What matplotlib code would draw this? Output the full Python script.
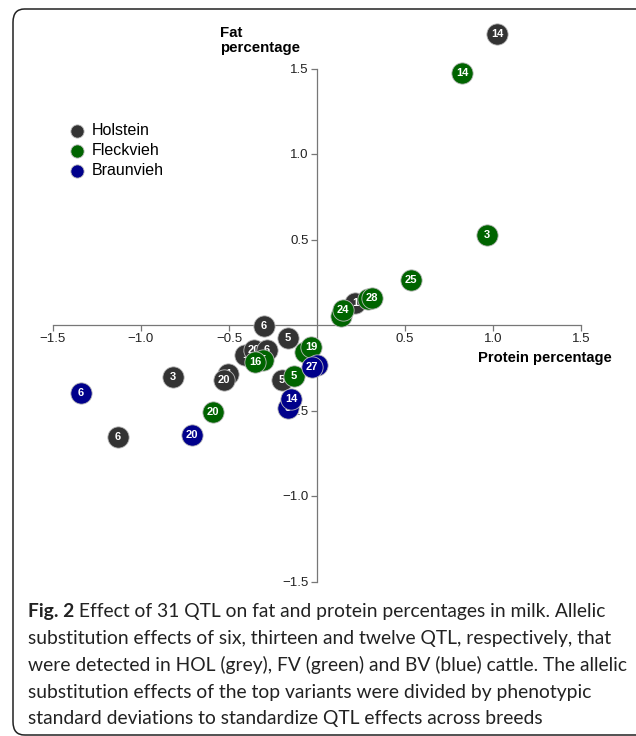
import matplotlib
matplotlib.use("Agg")
import matplotlib.pyplot as plt
from matplotlib.patches import FancyBboxPatch

# breeds: Holstein (grey), Fleckvieh (green), Braunvieh (blue)
# x = protein percentage effect, y = fat percentage effect, label = chromosome
hol_x = [-0.506, -0.528, -1.131, -0.818, -0.301, -0.165, -0.409, -0.358, -0.284, -0.199, 0.216, 1.023]
hol_y = [-0.287, -0.322, -0.655, -0.304, -0.005, -0.076, -0.175, -0.146, -0.146, -0.322, 0.129, 1.702]
hol_lab = ["1", "20", "6", "3", "6", "5", "1", "20", "6", "5", "1", "14"]

fv_x = [0.290, 0.313, 0.136, 0.148, -0.068, -0.034, -0.307, -0.352, -0.131, -0.591, 0.534, 0.966, 0.824]
fv_y = [0.152, 0.158, 0.053, 0.088, -0.158, -0.129, -0.205, -0.216, -0.298, -0.509, 0.263, 0.526, 1.474]
fv_lab = ["1", "28", "5", "24", "1", "19", "5", "16", "5", "20", "25", "3", "14"]

bv_x = [0.0, -0.028, -0.165, -0.148, -1.341, -0.710]
bv_y = [-0.234, -0.246, -0.485, -0.433, -0.398, -0.643]
bv_lab = ["1", "27", "5", "14", "6", "20"]

breeds = ["Holstein", "Fleckvieh", "Braunvieh"]
colors = ["#333333", "#006400", "#00008b"]
ticks = [-1.5, -1.0, -0.5, 0.5, 1.0, 1.5]
tick_labels = ["\u22121.5", "\u22121.0", "\u22120.5", "0.5", "1.0", "1.5"]

plt.rcParams["font.family"] = ["Liberation Sans", "DejaVu Sans"]

W, H = 636, 736
fig = plt.figure(figsize=(W / 100, H / 100), dpi=100)

# axes placed so that data 0 sits at pixel (317, 325)
xl, xr = -1.6, 1.7
yb, yt = -1.6, 1.8
px = lambda v: 317 + 176 * v
py = lambda v: 325 - 171 * v
ax = fig.add_axes([px(xl) / W, 1 - py(yb) / H, (px(xr) - px(xl)) / W, (py(yb) - py(yt)) / H])
ax.set_xlim(xl, xr)
ax.set_ylim(yb, yt)
ax.patch.set_visible(False)

for s in ["top", "right"]:
    ax.spines[s].set_visible(False)
for s in ["left", "bottom"]:
    ax.spines[s].set_position(("data", 0))
    ax.spines[s].set_color("#777777")
    ax.spines[s].set_linewidth(0.9)
    ax.spines[s].set_bounds(-1.5, 1.5)

ax.set_xticks(ticks)
ax.set_xticklabels(tick_labels)
ax.set_yticks(ticks)
ax.set_yticklabels(tick_labels)
ax.tick_params(colors="#777777", labelcolor="#222222", labelsize=9.5, length=4, width=0.9, pad=2)

z = 3
for name, c, xs, ys, labs in zip(breeds, colors, [hol_x, fv_x, bv_x], [hol_y, fv_y, bv_y],
                                 [hol_lab, fv_lab, bv_lab]):
    for i, (x, y, lab) in enumerate(zip(xs, ys, labs)):
        ax.scatter(x, y, s=235, color=c, edgecolors="#bbbbbb", linewidths=0.6, zorder=z,
                   label=name if i == 0 else None)
        ax.text(x, y, lab, ha="center", va="center", color="white", fontsize=8,
                fontweight="bold", zorder=z + 0.5)
        z += 1

ax.legend(loc="upper left", bbox_to_anchor=(69 / W, 1 - 123 / H), bbox_transform=fig.transFigure,
          frameon=False, fontsize=11.5, markerscale=0.62, handlelength=0.95, handletextpad=0.45,
          labelspacing=0.32, borderpad=0, borderaxespad=0, scatterpoints=1)

fig.text(220 / W, 1 - 26 / H, "Fat\npercentage", ha="left", va="top", fontsize=10.8,
         fontweight="bold", linespacing=1.1)
fig.text(478 / W, 1 - 358 / H, "Protein percentage", ha="left", va="center", fontsize=10.6,
         fontweight="bold")

# caption
cap = [
    "Effect of 31 QTL on fat and protein percentages in milk. Allelic",
    "substitution effects of six, thirteen and twelve QTL, respectively, that",
    "were detected in HOL (grey), FV (green) and BV (blue) cattle. The allelic",
    "substitution effects of the top variants were divided by phenotypic",
    "standard deviations to standardize QTL effects across breeds",
]
cap_font = ["Lato", "DejaVu Sans"]
fs = 13.9
t0 = fig.text(28 / W, 1 - 617 / H, "Fig. 2", ha="left", va="baseline", fontsize=fs,
              fontweight="bold", family=cap_font, color="#222222")
plt.annotate(" " + cap[0], xy=(1, 0), xycoords=t0, ha="left", va="bottom", fontsize=fs,
             family=cap_font, color="#222222", annotation_clip=False)
for k, line in enumerate(cap[1:]):
    fig.text(28 / W, 1 - (644 + 26.8 * k) / H, line, ha="left", va="baseline", fontsize=fs,
             family=cap_font, color="#222222")

box = FancyBboxPatch((13 / W, 1 / H), (660 - 13) / W, (735 - 9) / H,
                     boxstyle="round,pad=0,rounding_size=0.018", transform=fig.transFigure,
                     fill=False, edgecolor="#222222", linewidth=1.1)
fig.patches.append(box)

fig.savefig("out.png", dpi=100)
